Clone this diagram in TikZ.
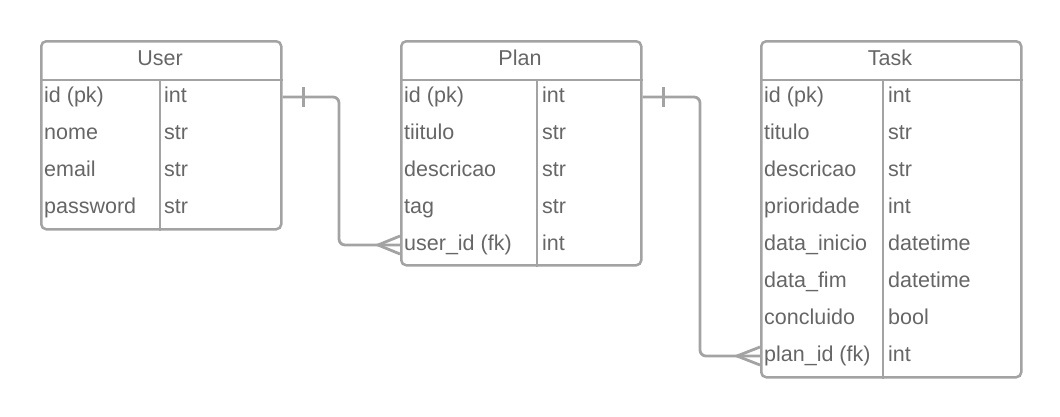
\documentclass[tikz,border=0pt]{standalone}
\usepackage{fontspec}
\setmainfont{Liberation Sans}
\usetikzlibrary{calc}

\definecolor{erline}{HTML}{A3A3A3}
\definecolor{ertext}{HTML}{666666}

\begin{document}
\begin{tikzpicture}[x=1pt, y=-1pt,
  tbl/.style={draw=erline, line width=2.5pt, rounded corners=5pt, anchor=north west, inner sep=0pt},
  head/.style={font=\fontsize{21.5}{25}\selectfont, text=ertext, inner sep=0pt, text height=16pt, text depth=4.5pt},
  fld/.style={head, anchor=west},
  sep/.style={draw=erline, line width=2.5pt},
  conn/.style={draw=erline, line width=2.8pt, rounded corners=6pt},
  crow/.style={draw=erline, line width=2.8pt}]
\useasboundingbox (0,0) rectangle (1060,416);

% User
\node[tbl, minimum width=240pt, minimum height=188pt] (user) at (40,40) {};
\node[head] (user-h) at (160,60) {User};
\draw[sep] ($(user.north west)+(0,40)$) -- ($(user.north east)+(0,40)$);
\draw[sep] ($(user.north west)+(120,40)$) -- ($(user.south west)+(120,0)$);
\foreach \fname/\ftype [count=\i] in {id (pk)/int, nome/str, email/str, password/str} {
  \node[fld] (user-f\i) at ($(user.north west)+(4,20+37*\i)$) {\fname};
  \node[fld] (user-t\i) at ($(user.north west)+(124,20+37*\i)$) {\ftype};
}

% Plan
\node[tbl, minimum width=240pt, minimum height=224pt] (plan) at (400,40) {};
\node[head] (plan-h) at (520,60) {Plan};
\draw[sep] ($(plan.north west)+(0,40)$) -- ($(plan.north east)+(0,40)$);
\draw[sep] ($(plan.north west)+(137,40)$) -- ($(plan.south west)+(137,0)$);
\foreach \fname/\ftype [count=\i] in {id (pk)/int, tiitulo/str, descricao/str, tag/str, user\_id (fk)/int} {
  \node[fld] (plan-f\i) at ($(plan.north west)+(4,20+37*\i)$) {\fname};
  \node[fld] (plan-t\i) at ($(plan.north west)+(142,20+37*\i)$) {\ftype};
}

% Task
\node[tbl, minimum width=260pt, minimum height=336pt] (task) at (760,40) {};
\node[head] (task-h) at (890,60) {Task};
\draw[sep] ($(task.north west)+(0,40)$) -- ($(task.north east)+(0,40)$);
\draw[sep] ($(task.north west)+(123,40)$) -- ($(task.south west)+(123,0)$);
\foreach \fname/\ftype [count=\i] in {id (pk)/int, titulo/str, descricao/str, prioridade/int,
    data\_inicio/datetime, data\_fim/datetime, concluido/bool, plan\_id (fk)/int} {
  \node[fld] (task-f\i) at ($(task.north west)+(4,20+37*\i)$) {\fname};
  \node[fld] (task-t\i) at ($(task.north west)+(128,20+37*\i)$) {\ftype};
}

% relations
\coordinate (bendA) at (339,0);
\coordinate (bendB) at (700,0);
\draw[conn] (user.east |- user-f1) -- (bendA |- user-f1) -- (bendA |- plan-f5) -- (plan.west |- plan-f5);
\draw[crow] ($(user.east |- user-f1)+(21,-10)$) -- ++(0,20);
\draw[crow] ($(plan.west |- plan-f5)+(0,-9)$) -- ++(-22,9) -- ++(22,9);
\draw[conn] (plan.east |- plan-f1) -- (bendB |- plan-f1) -- (bendB |- task-f8) -- (task.west |- task-f8);
\draw[crow] ($(plan.east |- plan-f1)+(21,-10)$) -- ++(0,20);
\draw[crow] ($(task.west |- task-f8)+(0,-9)$) -- ++(-23,9) -- ++(23,9);
\end{tikzpicture}
\end{document}
